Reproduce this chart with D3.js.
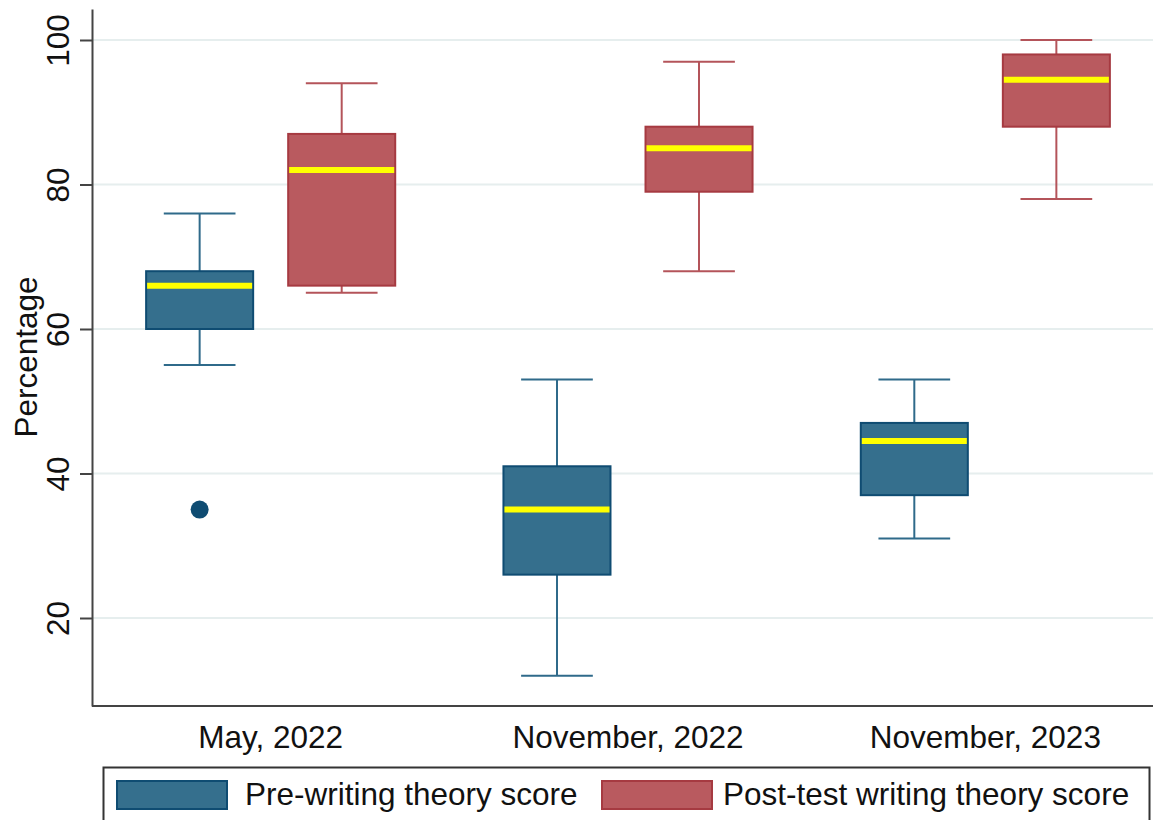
<!DOCTYPE html>
<html>
<head>
<meta charset="utf-8">
<script src="https://cdn.jsdelivr.net/npm/d3@7"></script>
<style>
  html, body { margin: 0; padding: 0; background: #fff; }
  svg { display: block; font-family: "Liberation Sans", Arial, sans-serif; }
</style>
</head>
<body>
<svg id="chart" width="1153" height="820"></svg>
<script>
// Test sessions on the x axis
const sessions = ["May, 2022", "November, 2022", "November, 2023"];
// The two score series drawn side by side in each session
const seriesNames = ["Pre-writing theory score", "Post-test writing theory score"];

// Five-number summaries per session: [lower whisker, Q1, median, Q3, upper whisker]
const preScores = [
  [55, 60, 66, 68, 76],
  [12, 26, 35, 41, 53],
  [31, 37, 44.5, 47, 53]
];
const postScores = [
  [65, 66, 82, 87, 94],
  [68, 79, 85, 88, 97],
  [78, 88, 94.5, 98, 100]
];
// Outside values: [session index, series index, value]
const outliers = [
  [0, 0, 35]
];
const yTicks = [20, 40, 60, 80, 100];
const yLabel = "Percentage";

const styles = [
  { fill: "#356f8d", stroke: "#0f4c72", whisker: "#2f6a8a" },
  { fill: "#b95a5f", stroke: "#a63a41", whisker: "#b4545a" }
];

const FONT = 31.5;
const svg = d3.select("#chart");

const plot = { left: 92, right: 1164, top: 9, bottom: 706 };

const x = d3.scaleBand().domain(sessions).range([plot.left, plot.right]).padding(0);
const sub = d3.scaleBand().domain(seriesNames)
  .range([0, x.bandwidth()])
  .paddingInner(0.2465)
  .paddingOuter(0.381);
const y = d3.scaleLinear().domain([7.82, 104.29]).range([plot.bottom, plot.top]);

// horizontal grid
svg.append("g")
  .selectAll("line")
  .data(yTicks)
  .join("line")
  .attr("x1", plot.left)
  .attr("x2", 1153)
  .attr("y1", d => y(d))
  .attr("y2", d => y(d))
  .attr("stroke", "#e6eeee")
  .attr("stroke-width", 2);

// boxes
const allSeries = [preScores, postScores];
const boxes = [];
sessions.forEach((s, i) => {
  allSeries.forEach((ser, j) => {
    const [lo, q1, med, q3, hi] = ser[i];
    boxes.push({ session: s, series: seriesNames[j], j, lo, q1, med, q3, hi });
  });
});

const bw = sub.bandwidth();
const capW = bw * 0.67;

const g = svg.append("g");
const box = g.selectAll("g.box").data(boxes).join("g")
  .attr("class", "box")
  .attr("transform", d => `translate(${x(d.session) + sub(d.series)},0)`);

// whiskers
box.append("line")
  .attr("x1", bw / 2).attr("x2", bw / 2)
  .attr("y1", d => y(d.hi)).attr("y2", d => y(d.q3))
  .attr("stroke", d => styles[d.j].whisker).attr("stroke-width", 2);
box.append("line")
  .attr("x1", bw / 2).attr("x2", bw / 2)
  .attr("y1", d => y(d.q1)).attr("y2", d => y(d.lo))
  .attr("stroke", d => styles[d.j].whisker).attr("stroke-width", 2);
// caps
box.append("line")
  .attr("x1", (bw - capW) / 2).attr("x2", (bw + capW) / 2)
  .attr("y1", d => y(d.hi)).attr("y2", d => y(d.hi))
  .attr("stroke", d => styles[d.j].whisker).attr("stroke-width", 2);
box.append("line")
  .attr("x1", (bw - capW) / 2).attr("x2", (bw + capW) / 2)
  .attr("y1", d => y(d.lo)).attr("y2", d => y(d.lo))
  .attr("stroke", d => styles[d.j].whisker).attr("stroke-width", 2);
// IQR box
box.append("rect")
  .attr("x", 0)
  .attr("width", bw)
  .attr("y", d => y(d.q3))
  .attr("height", d => y(d.q1) - y(d.q3))
  .attr("fill", d => styles[d.j].fill)
  .attr("stroke", d => styles[d.j].stroke)
  .attr("stroke-width", 2);
// median
box.append("line")
  .attr("x1", 1).attr("x2", bw - 1)
  .attr("y1", d => y(d.med)).attr("y2", d => y(d.med))
  .attr("stroke", "#ffff00").attr("stroke-width", 6);

// outside values
g.selectAll("circle.out").data(outliers).join("circle")
  .attr("class", "out")
  .attr("cx", d => x(sessions[d[0]]) + sub(seriesNames[d[1]]) + bw / 2)
  .attr("cy", d => y(d[2]))
  .attr("r", 9)
  .attr("fill", "#0f4c72");

// y axis
const yAxis = svg.append("g")
  .attr("transform", `translate(${plot.left},0)`)
  .call(d3.axisLeft(y).tickValues(yTicks).tickSizeInner(12).tickSizeOuter(0)
    .tickPadding(0).tickFormat(d3.format("d")));
yAxis.select(".domain").attr("stroke", "#444").attr("stroke-width", 2);
yAxis.selectAll(".tick line").attr("stroke", "#444").attr("stroke-width", 2);
yAxis.selectAll(".tick text")
  .attr("x", 0).attr("dy", 0)
  .attr("transform", "translate(-23,0) rotate(-90)")
  .attr("text-anchor", "middle")
  .attr("font-size", FONT)
  .attr("font-family", "Liberation Sans, Arial, sans-serif")
  .attr("fill", "#111")
  .attr("y", 0);

svg.append("text")
  .attr("transform", `translate(37,${(y(100) + y(20)) / 2 + 28}) rotate(-90)`)
  .attr("text-anchor", "middle")
  .attr("font-size", FONT)
  .attr("fill", "#111")
  .text(yLabel);

// x axis
const xAxis = svg.append("g")
  .attr("transform", `translate(0,${plot.bottom})`)
  .call(d3.axisBottom(x).tickSize(0).tickPadding(0));
xAxis.select(".domain").attr("stroke", "#444").attr("stroke-width", 2)
  .attr("d", `M${plot.left},0H1153`);
xAxis.selectAll(".tick text")
  .attr("y", 42).attr("dy", 0)
  .attr("font-size", FONT)
  .attr("font-family", "Liberation Sans, Arial, sans-serif")
  .attr("fill", "#111");

// legend
const legend = svg.append("g");
legend.append("rect")
  .attr("x", 103.5).attr("y", 767.5)
  .attr("width", 1046).attr("height", 70)
  .attr("fill", "none").attr("stroke", "#333").attr("stroke-width", 2);
const legendX = [117, 602];
const items = legend.selectAll("g.item").data(seriesNames).join("g")
  .attr("class", "item")
  .attr("transform", (d, i) => `translate(${legendX[i]},781)`);
items.append("rect")
  .attr("width", 110).attr("height", 28)
  .attr("fill", (d, i) => styles[i].fill)
  .attr("stroke", (d, i) => styles[i].stroke)
  .attr("stroke-width", 2);
items.append("text")
  .attr("x", (d, i) => i === 0 ? 128 : 121)
  .attr("y", 24)
  .attr("font-size", FONT)
  .attr("fill", "#111")
  .text(d => d);
</script>
</body>
</html>
